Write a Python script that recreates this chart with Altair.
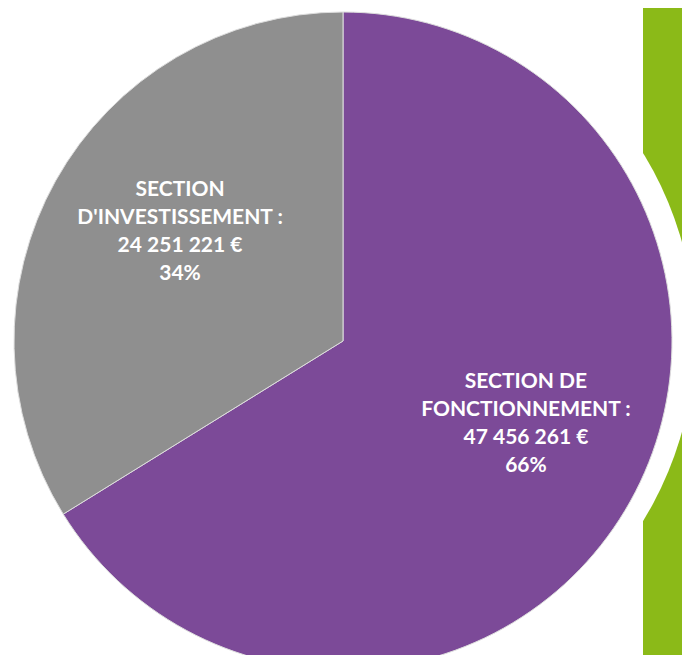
import altair as alt
import pandas as pd

# Data
sections = ["SECTION DE FONCTIONNEMENT", "SECTION D'INVESTISSEMENT"]
amounts = [47456261, 24251221]
amount_labels = ["47 456 261 €", "24 251 221 €"]
percents = ["66%", "34%"]
title_lines = ["SECTION DE\nFONCTIONNEMENT :", "SECTION\nD'INVESTISSEMENT :"]
colors = ["#7C4A98", "#8F8F8F"]

df = pd.DataFrame({
    "section": sections,
    "amount": amounts,
    "idx": list(range(len(sections))),
    "label": [f"{t}\n{a}\n{p}" for t, a, p in zip(title_lines, amount_labels, percents)],
})

W, H = 674, 647
CX, CY = 335, 333

green = alt.Chart(pd.DataFrame({"k": [0]})).mark_rect(color="#8BBA18").encode(
    x=alt.value(635), x2=alt.value(700), y=alt.value(-20), y2=alt.value(700)
)

ring = alt.Chart(pd.DataFrame({"k": [1]})).mark_arc(radius=352, color="white").encode(
    theta=alt.Theta("k:Q", scale=alt.Scale(domain=[0, 1])), x=alt.value(CX), y=alt.value(CY - 4)
)

base = alt.Chart(df).encode(
    theta=alt.Theta("amount:Q", stack=True),
    order=alt.Order("idx:Q"),
    x=alt.value(CX), y=alt.value(CY),
)

pie = base.mark_arc(radius=329, stroke="#dddddd", strokeWidth=1).encode(
    color=alt.Color("section:N", scale=alt.Scale(domain=sections, range=colors), legend=None)
)

text = base.mark_text(
    radius=198, dx=10, dy=-55, color="white", font="Lato", fontWeight="bold",
    fontSize=21, lineBreak="\n", lineHeight=28, align="center", baseline="middle"
).encode(text="label:N")

chart = alt.layer(green, ring, pie, text).resolve_scale(theta="independent").properties(
    width=W, height=H, padding=0, background="white",
    autosize=alt.AutoSizeParams(type="none", contains="padding"),
).configure_view(stroke=None)

chart.save("out.html", embed_options={"renderer": "svg", "actions": False})
